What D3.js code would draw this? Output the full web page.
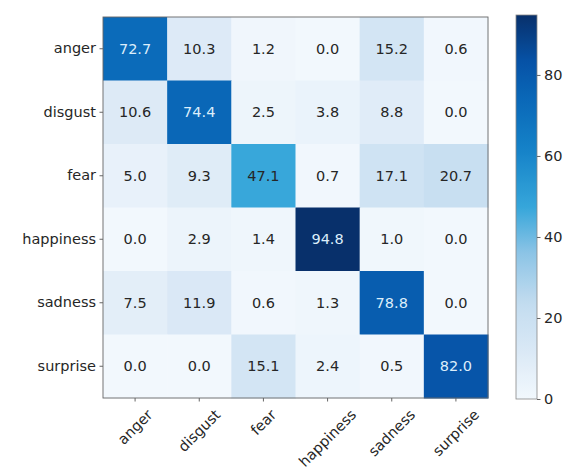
<!DOCTYPE html>
<html>
<head>
<meta charset="utf-8">
<script src="https://cdn.jsdelivr.net/npm/d3@7"></script>
<style>
  body { margin: 0; background: #fff; }
  text { font-family: "DejaVu Sans", sans-serif; fill: #262626; }
</style>
</head>
<body>
<div id="chart"></div>
<script>
const w = 565;
const h = 471;

const labels = ['anger', 'disgust', 'fear', 'happiness', 'sadness', 'surprise'];
const rowAnger = [72.7, 10.3, 1.2, 0.0, 15.2, 0.6];
const rowDisgust = [10.6, 74.4, 2.5, 3.8, 8.8, 0.0];
const rowFear = [5.0, 9.3, 47.1, 0.7, 17.1, 20.7];
const rowHappiness = [0.0, 2.9, 1.4, 94.8, 1.0, 0.0];
const rowSadness = [7.5, 11.9, 0.6, 1.3, 78.8, 0.0];
const rowSurprise = [0.0, 0.0, 15.1, 2.4, 0.5, 82.0];
const cbTicks = [0, 20, 40, 60, 80];

// blues colormap, tuned to the look of the picture
const cmapStops = [0, 0.12, 0.25, 0.38, 0.5, 0.65, 0.78, 0.88, 1];
const cmapColors = ['#f2f8fd', '#dbe9f6', '#c2dcef', '#8cc4e6', '#36a6da', '#1582c8', '#0a68b8', '#0652a6', '#08306b'];

const rows = [rowAnger, rowDisgust, rowFear, rowHappiness, rowSadness, rowSurprise];
const cells = [];
rows.forEach((r, i) => r.forEach((v, j) => cells.push({ row: labels[i], col: labels[j], value: v })));

const mLeft = 103, mRight = 488, mTop = 17, mBottom = 398;
const fontSize = 14.5;

const vmax = d3.max(cells, d => d.value);

const xScale = d3.scaleBand().domain(labels).range([mLeft, mRight]);
const yScale = d3.scaleBand().domain(labels).range([mTop, mBottom]);
const colorScale = d3.scaleLinear()
    .domain(cmapStops.map(s => s * vmax))
    .range(cmapColors)
    .interpolate(d3.interpolateRgb)
    .clamp(true);

const svg = d3.select("#chart")
    .append("svg")
    .attr("width", w)
    .attr("height", h);

svg.selectAll("rect.cell")
    .data(cells)
    .enter()
    .append("rect")
    .attr("class", "cell")
    .attr("x", d => xScale(d.col))
    .attr("y", d => yScale(d.row))
    .attr("width", xScale.bandwidth() + 0.5)
    .attr("height", yScale.bandwidth() + 0.5)
    .style("fill", d => colorScale(d.value));

svg.selectAll("text.val")
    .data(cells)
    .enter()
    .append("text")
    .attr("class", "val")
    .attr("x", d => xScale(d.col) + xScale.bandwidth() / 2)
    .attr("y", d => yScale(d.row) + yScale.bandwidth() / 2)
    .attr("text-anchor", "middle")
    .attr("dominant-baseline", "central")
    .style("font-size", fontSize + "px")
    .style("fill", d => d.value > vmax / 2 ? "#dceefb" : "#262626")
    .text(d => d.value.toFixed(1));

// frame
svg.append("rect")
    .attr("x", mLeft).attr("y", mTop)
    .attr("width", mRight - mLeft).attr("height", mBottom - mTop)
    .style("fill", "none").style("stroke", "#666").style("stroke-width", 0.9);

// y axis
const yAxis = d3.axisLeft(yScale).tickSize(3.5).tickPadding(3.5);
const yG = svg.append("g")
    .attr("transform", "translate(" + mLeft + ",0)")
    .call(yAxis);
yG.select(".domain").remove();
yG.selectAll("line").style("stroke", "#666");
yG.selectAll("text").style("font-size", fontSize + "px").style("font-family", "DejaVu Sans").attr("fill", "#262626");

// x axis
const xAxis = d3.axisBottom(xScale).tickSize(3.5).tickFormat("");
const xG = svg.append("g")
    .attr("transform", "translate(0," + mBottom + ")")
    .call(xAxis);
xG.select(".domain").remove();
xG.selectAll("line").style("stroke", "#666");

const labelTop = mBottom + 9;
svg.selectAll("text.xlab")
    .data(labels)
    .enter()
    .append("text")
    .attr("class", "xlab")
    .attr("text-anchor", "middle")
    .attr("dominant-baseline", "central")
    .style("font-size", fontSize + "px")
    .text(d => d)
    .each(function(d) {
        const tw = this.getComputedTextLength();
        const half = (tw + fontSize) * Math.SQRT1_2 / 2;
        const cx = xScale(d) + xScale.bandwidth() / 2;
        const cy = labelTop + half;
        d3.select(this).attr("transform", "translate(" + cx + "," + cy + ") rotate(-45)");
    });

// colorbar
const cbX = 516, cbW = 21, cbTop = 15, cbBottom = 399;
const cbScale = d3.scaleLinear().domain([0, vmax]).range([cbBottom, cbTop]);

const defs = svg.append("defs");
const grad = defs.append("linearGradient")
    .attr("id", "cbgrad")
    .attr("x1", 0).attr("y1", 1).attr("x2", 0).attr("y2", 0);
d3.range(0, 1.0001, 0.02).forEach(t => {
    grad.append("stop").attr("offset", t).attr("stop-color", colorScale(t * vmax));
});

svg.append("rect")
    .attr("x", cbX).attr("y", cbTop)
    .attr("width", cbW).attr("height", cbBottom - cbTop)
    .style("fill", "url(#cbgrad)")
    .style("stroke", "#888").style("stroke-width", 0.8);

const cbAxis = d3.axisRight(cbScale).tickValues(cbTicks).tickSize(3.5).tickPadding(3.5);
const cbG = svg.append("g")
    .attr("transform", "translate(" + (cbX + cbW) + ",0)")
    .call(cbAxis);
cbG.select(".domain").remove();
cbG.selectAll("line").style("stroke", "#666");
cbG.selectAll("text").style("font-size", fontSize + "px").style("font-family", "DejaVu Sans").attr("fill", "#262626");
</script>
</body>
</html>
